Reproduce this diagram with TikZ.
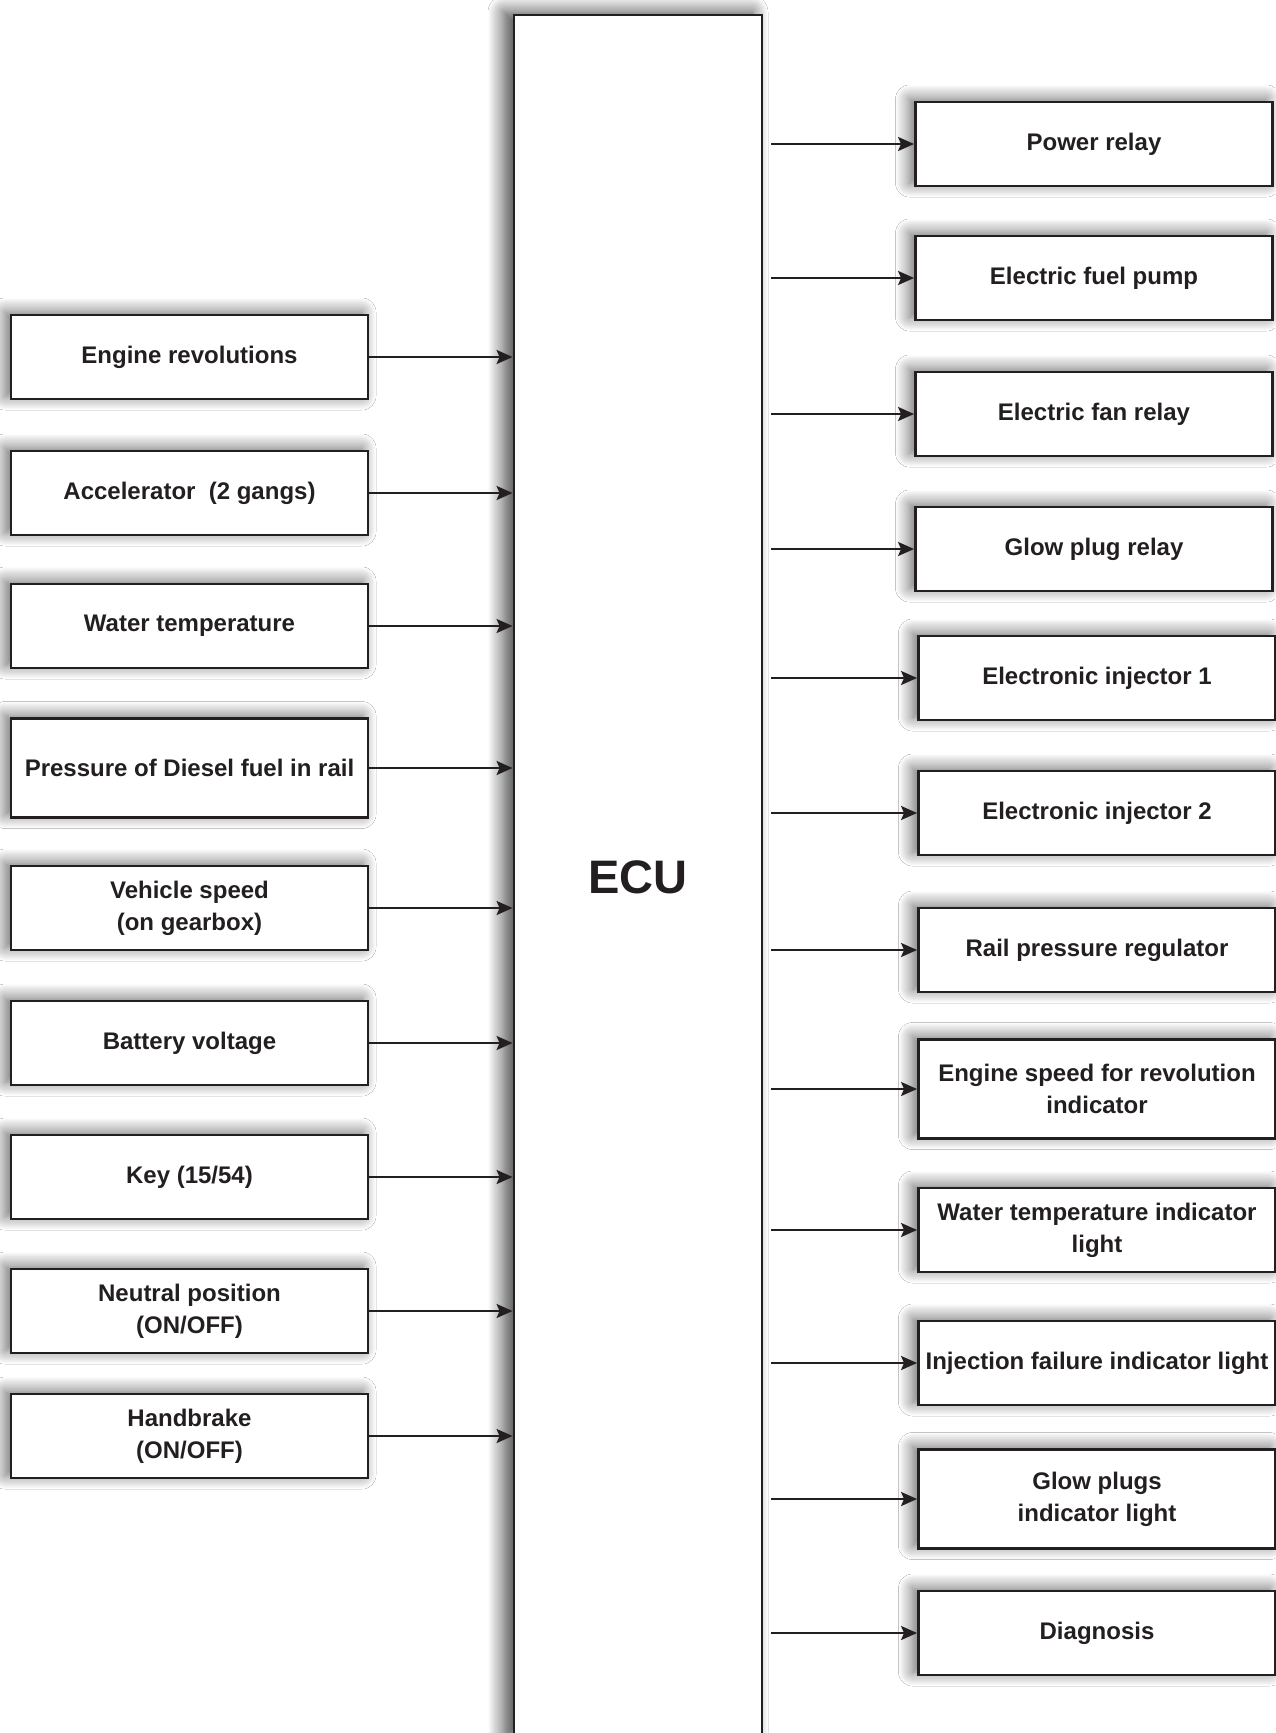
\documentclass[tikz,border=0pt]{standalone}
\usepackage{fontspec}
\setmainfont{Liberation Sans}
\usetikzlibrary{arrows.meta,shadows.blur}
\definecolor{ink}{HTML}{231F20}
\tikzset{
  box/.style={draw=ink, line width=2.8pt, fill=white, minimum width=357pt, minimum height=84pt,
    align=center, font=\fontsize{24}{32}\selectfont\bfseries, text=ink, inner sep=2pt,
    blur shadow={shadow xshift=-6pt, shadow yshift=3pt, shadow blur radius=14pt, shadow opacity=60, shadow blur steps=14}},
  tallbox/.style={box, minimum height=99pt},
  ecubox/.style={draw=ink, line width=2.8pt, fill=white, minimum width=248pt, minimum height=1725pt,
    font=\fontsize{47}{56}\selectfont\bfseries, text=ink,
    blur shadow={shadow xshift=-10pt, shadow yshift=3pt, shadow blur radius=16pt, shadow opacity=75, shadow blur steps=16}},
  arr/.style={draw=ink, line width=2.2pt, -{Stealth[length=16pt,width=14pt,inset=3pt]}}
}
\begin{document}
\begin{tikzpicture}[x=1pt,y=-1pt]
\useasboundingbox (0,0) rectangle (1275,1733);
\fill[white] (0,0) rectangle (1275,1733);
\node[ecubox] (ecu) at (638,877.5) {ECU};
% inputs
\node[box] (in1) at (189.5,357) {Engine revolutions};
\node[box] (in2) at (189.5,493) {Accelerator\ \ (2 gangs)};
\node[box] (in3) at (189.5,626) {Water temperature};
\node[tallbox] (in4) at (189.5,768) {Pressure of Diesel fuel in rail};
\node[box] (in5) at (189.5,908) {Vehicle speed\\(on gearbox)};
\node[box] (in6) at (189.5,1043) {Battery voltage};
\node[box] (in7) at (189.5,1177) {Key (15/54)};
\node[box] (in8) at (189.5,1311) {Neutral position\\(ON/OFF)};
\node[box] (in9) at (189.5,1436) {Handbrake\\(ON/OFF)};
\foreach \i in {1,...,9} {\draw[arr] (in\i.east) -- (in\i.east -| ecu.west);}
% outputs
\node[box] (out1) at (1094,144) {Power relay};
\node[box] (out2) at (1094,278) {Electric fuel pump};
\node[box] (out3) at (1094,414) {Electric fan relay};
\node[box] (out4) at (1094,549) {Glow plug relay};
\node[box] (out5) at (1097,678) {Electronic injector 1};
\node[box] (out6) at (1097,813) {Electronic injector 2};
\node[box] (out7) at (1097,950) {Rail pressure regulator};
\node[tallbox] (out8) at (1097,1089) {Engine speed for revolution\\indicator};
\node[box] (out9) at (1097,1230) {Water temperature indicator\\light};
\node[box] (out10) at (1097,1363) {Injection failure indicator light};
\node[tallbox] (out11) at (1097,1499) {Glow plugs\\indicator light};
\node[box] (out12) at (1097,1633) {Diagnosis};
\foreach \i in {1,...,12} {\draw[arr] ([xshift=8pt]out\i.west -| ecu.east) -- (out\i.west);}
\end{tikzpicture}
\end{document}
